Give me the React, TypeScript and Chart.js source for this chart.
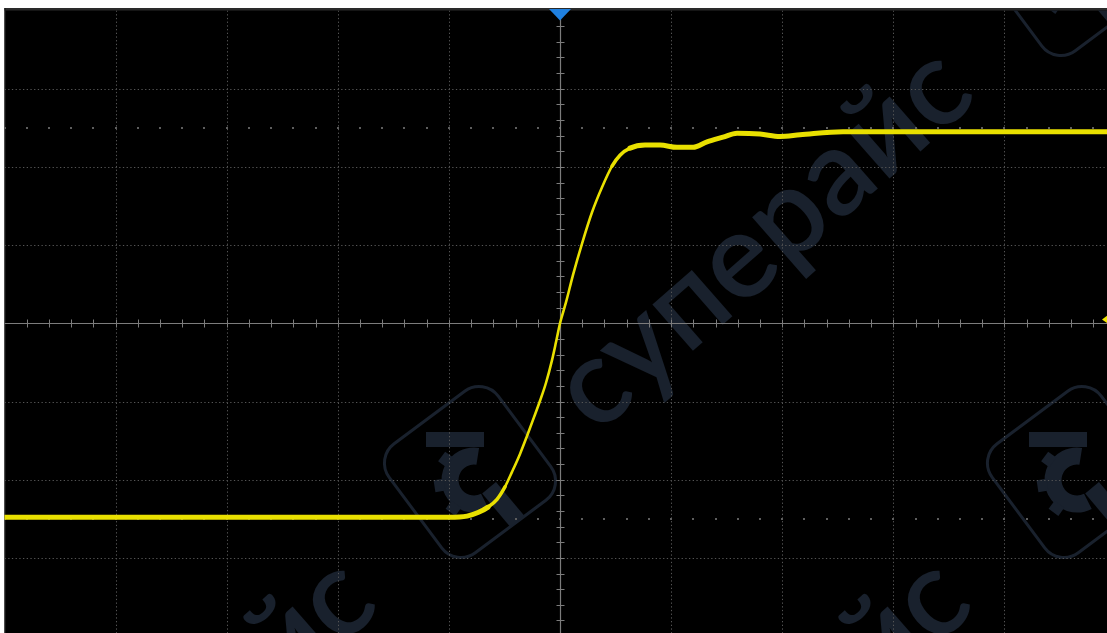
import React, { useEffect, useRef } from "react";
import { Chart, registerables } from "chart.js";

Chart.register(...registerables);

// Waveform: time and voltage in divisions (0 = trigger point / centre)
const timeDiv = [
  -5.0, -1.0, -0.837, -0.738, -0.648, -0.567, -0.495, -0.432, -0.36, -0.297, -0.234, -0.18, -0.126,
  -0.072, -0.036, 0.0, 0.054, 0.117, 0.198, 0.288, 0.378, 0.468, 0.54, 0.63, 0.765, 0.9,
  1.053, 1.197, 1.323, 1.467, 1.593, 1.8, 1.98, 2.16, 2.547, 3.06, 4.923,
];
const voltDiv = [
  -2.48, -2.48, -2.465, -2.42, -2.35, -2.25, -2.09, -1.9, -1.67, -1.44, -1.2, -0.99, -0.76,
  -0.47, -0.24, 0.0, 0.27, 0.62, 1.02, 1.42, 1.74, 2.01, 2.15, 2.24, 2.28, 2.28,
  2.25, 2.25, 2.32, 2.38, 2.43, 2.42, 2.39, 2.41, 2.45, 2.45, 2.45,
];

// Screen / graticule
const xMin = -5;
const xMax = 4.923;
const yMin = -3.96;
const yMax = 4;
const vertGridLines = [-4, -3, -2, -1, 1, 2, 3, 4];
const horizGridLines = [-3, -2, -1, 1, 2, 3];
const levelMarkerRows = [2.5, -2.5];
const triggerTime = 0;
const triggerLevel = 0.05;
const watermarkText = "суперайс";

const BG = "#000000";
const GRID = "#555555";
const AXIS = "#7c7c7c";
const TRACE = "#e9e000";
const WM = "#19212d";

function drawLogo(ctx: CanvasRenderingContext2D, cx: number, cy: number) {
  ctx.save();
  ctx.translate(cx, cy);
  ctx.rotate(-0.64);
  ctx.strokeStyle = WM;
  ctx.lineWidth = 3;
  ctx.beginPath();
  (ctx as any).roundRect(-68, -68, 136, 136, 24);
  ctx.stroke();
  ctx.restore();

  ctx.save();
  ctx.translate(cx, cy + 4);
  ctx.fillStyle = WM;
  ctx.strokeStyle = WM;
  ctx.lineWidth = 17;
  ctx.beginPath();
  ctx.arc(4, 4, 24, 0.35 * Math.PI, 1.55 * Math.PI);
  ctx.stroke();
  const teeth = [0.7, 0.95, 1.2];
  for (const a of teeth) {
    ctx.save();
    ctx.translate(4, 4);
    ctx.rotate(a * Math.PI);
    ctx.fillRect(30, -6, 10, 12);
    ctx.restore();
  }
  ctx.fillRect(-44, -44, 58, 15);
  ctx.save();
  ctx.translate(34, 28);
  ctx.rotate(-0.7);
  ctx.fillRect(-10, -22, 18, 44);
  ctx.restore();
  ctx.restore();
}

function drawWatermarkText(ctx: CanvasRenderingContext2D, cx: number, cy: number) {
  ctx.save();
  ctx.translate(cx, cy);
  ctx.rotate(-0.72);
  let fs = 110;
  ctx.font = `600 ${fs}px Lato, "Noto Sans", sans-serif`;
  const w = ctx.measureText(watermarkText).width;
  fs = (fs * 510) / w;
  ctx.font = `600 ${fs}px Lato, "Noto Sans", sans-serif`;
  ctx.fillStyle = WM;
  ctx.textAlign = "center";
  ctx.textBaseline = "alphabetic";
  ctx.fillText(watermarkText, 0, fs * 0.25);
  ctx.restore();
}

const scopePlugin = {
  id: "scope",
  beforeDraw(chart: any) {
    const { ctx, width, height } = chart;
    const xs = chart.scales.x;
    const ys = chart.scales.y;
    const left = xs.getPixelForValue(xMin);
    const top = 8;
    ctx.save();
    ctx.fillStyle = "#ffffff";
    ctx.fillRect(0, 0, width, height);
    ctx.fillStyle = BG;
    ctx.fillRect(left, top, width - left, height - top);
    ctx.fillStyle = "#2a2a2a";
    ctx.fillRect(left, top, width - left, 2.5);
    ctx.fillStyle = "#1c1c1c";
    ctx.fillRect(left, top, 1.2, height - top);

    ctx.beginPath();
    ctx.rect(left, top + 2.5, width - left, height - top);
    ctx.clip();
    drawWatermarkText(ctx, 768, 245);
    drawWatermarkText(ctx, 768 - 597, 245 + 510);
    drawWatermarkText(ctx, 768 - 2, 245 + 510);
    drawLogo(ctx, 470, 472);
    drawLogo(ctx, 1073, 472);
    drawLogo(ctx, 1070, -30);

    const yTop = ys.getPixelForValue(yMax);
    const xRight = width;

    ctx.strokeStyle = GRID;
    ctx.lineWidth = 1;
    ctx.setLineDash([1.3, 2.4]);
    for (const v of vertGridLines) {
      const x = Math.round(xs.getPixelForValue(v)) + 0.5;
      ctx.beginPath();
      ctx.moveTo(x, yTop);
      ctx.lineTo(x, height);
      ctx.stroke();
    }
    for (const v of horizGridLines) {
      const y = Math.round(ys.getPixelForValue(v)) + 0.5;
      ctx.beginPath();
      ctx.moveTo(left, y);
      ctx.lineTo(xRight, y);
      ctx.stroke();
    }
    ctx.setLineDash([]);

    ctx.fillStyle = "#5e5e5e";
    for (const lv of levelMarkerRows) {
      const y = Math.round(ys.getPixelForValue(lv));
      for (let t = xMin; t <= xMax + 0.001; t += 0.2) {
        const x = Math.round(xs.getPixelForValue(t));
        ctx.fillRect(x - 1, y - 1, 2, 2);
      }
    }

    const cx = Math.round(xs.getPixelForValue(0)) + 0.5;
    const cy = Math.round(ys.getPixelForValue(0)) + 0.5;
    ctx.strokeStyle = AXIS;
    ctx.lineWidth = 1.2;
    ctx.beginPath();
    ctx.moveTo(left, cy);
    ctx.lineTo(xRight, cy);
    ctx.moveTo(cx, yTop);
    ctx.lineTo(cx, height);
    ctx.stroke();
    ctx.lineWidth = 1;
    ctx.beginPath();
    for (let t = xMin + 0.2; t < xMax; t += 0.2) {
      const x = Math.round(xs.getPixelForValue(t)) + 0.5;
      ctx.moveTo(x, cy - 4);
      ctx.lineTo(x, cy + 4);
    }
    for (let v = yMin; v < yMax; v += 0.2) {
      const vv = Math.round(v * 5) / 5;
      if (vv <= yMin) continue;
      const y = Math.round(ys.getPixelForValue(vv)) + 0.5;
      ctx.moveTo(cx - 4, y);
      ctx.lineTo(cx + 4, y);
    }
    ctx.stroke();
    ctx.restore();
  },
  afterDatasetsDraw(chart: any) {
    const { ctx, width } = chart;
    const xs = chart.scales.x;
    const ys = chart.scales.y;
    ctx.save();
    const tx = xs.getPixelForValue(triggerTime);
    ctx.fillStyle = "#1f80e0";
    ctx.beginPath();
    ctx.moveTo(tx - 11, 9);
    ctx.lineTo(tx + 11, 9);
    ctx.lineTo(tx, 20.5);
    ctx.closePath();
    ctx.fill();
    const ty = ys.getPixelForValue(triggerLevel);
    ctx.fillStyle = "#f2e600";
    ctx.beginPath();
    ctx.moveTo(width - 5, ty);
    ctx.lineTo(width + 2, ty - 5);
    ctx.lineTo(width + 2, ty + 5);
    ctx.closePath();
    ctx.fill();
    ctx.restore();
  },
};

export default function App() {
  const ref = useRef<HTMLCanvasElement | null>(null);
  useEffect(() => {
    if (!ref.current) return;
    const chart = new Chart(ref.current, {
      type: "line",
      data: {
        datasets: [
          {
            data: timeDiv.map((t, i) => ({ x: t, y: voltDiv[i] })),
            borderColor: TRACE,
            borderWidth: 4,
            pointRadius: 0,
            cubicInterpolationMode: "monotone",
            borderJoinStyle: "round",
            borderCapStyle: "round",
            segment: {
              borderWidth: (c: any) => {
                const dx = Math.abs(c.p1.x - c.p0.x) || 0.001;
                const dy = Math.abs(c.p1.y - c.p0.y);
                const s = dy / dx;
                return s > 2 ? 2.6 : s > 0.7 ? 3.6 : 5;
              },
            },
          } as any,
        ],
      },
      options: {
        responsive: false,
        devicePixelRatio: 1,
        animation: false,
        layout: { padding: { left: 4.5, top: 10.5, right: 0, bottom: 0 } },
        plugins: { legend: { display: false }, tooltip: { enabled: false } },
        scales: {
          x: { type: "linear", min: xMin, max: xMax, display: false },
          y: { type: "linear", min: yMin, max: yMax, display: false },
        },
      },
      plugins: [scopePlugin],
    });
    return () => chart.destroy();
  }, []);
  return (
    <div style={{ position: "fixed", left: 0, top: 0, width: 1107, height: 633, background: "#fff" }}>
      <canvas ref={ref} width={1107} height={633} style={{ display: "block" }} />
    </div>
  );
}
